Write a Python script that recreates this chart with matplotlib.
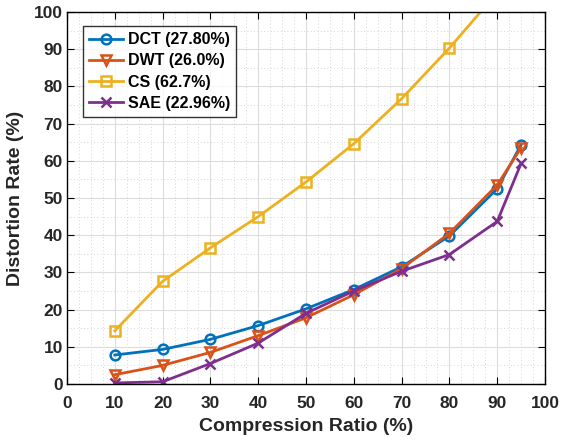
import numpy as np
import matplotlib
matplotlib.use('Agg')
import matplotlib.pyplot as plt
from matplotlib.ticker import MultipleLocator

ratio = [10, 20, 30, 40, 50, 60, 70, 80, 90, 95]
dct = [7.8, 9.3, 12.0, 15.7, 20.2, 25.4, 31.5, 39.8, 52.5, 64.3]
dwt = [2.5, 5.0, 8.5, 13.0, 17.8, 24.0, 31.0, 40.5, 53.5, 63.5]
cs = [14.3, 27.6, 36.6, 45.0, 54.3, 64.6, 76.7, 90.3, 105.2]
sae = [0.3, 0.6, 5.5, 11.0, 19.0, 25.0, 30.3, 34.8, 43.7, 59.3]
labels = ["DCT (27.80%)", "DWT (26.0%)", "CS (62.7%)", "SAE (22.96%)"]

plt.rcParams['font.family'] = ['Liberation Sans', 'DejaVu Sans']
plt.rcParams['font.weight'] = 'bold'
plt.rcParams['axes.linewidth'] = 1.0

fig = plt.figure(figsize=(5.61, 4.43), dpi=100)
ax = fig.add_axes([67 / 561, 1 - 384 / 443, (545 - 67) / 561, (384 - 12) / 443])

kw = dict(linewidth=2, markersize=7, markerfacecolor='none', markeredgewidth=1.8)
ax.plot(ratio, dct, marker='o', color='#0072BD', label=labels[0], **kw)
ax.plot(ratio, dwt, marker='v', color='#D95319', label=labels[1], **kw)
ax.plot(ratio[:len(cs)], cs, marker='s', color='#EDB120', label=labels[2], **kw)
ax.plot(ratio, sae, marker='x', color='#7E2F8E', label=labels[3], **kw)

ax.set_xlim(0, 100)
ax.set_ylim(0, 100)
ax.xaxis.set_major_locator(MultipleLocator(10))
ax.yaxis.set_major_locator(MultipleLocator(10))
ax.xaxis.set_minor_locator(MultipleLocator(2.5))
ax.yaxis.set_minor_locator(MultipleLocator(5))
ax.grid(True, which='major', color='#dcdcdc', linewidth=0.8)
ax.grid(True, which='minor', color='#c8c8c8', linestyle=(0, (1, 3)), linewidth=0.6)
ax.set_axisbelow(True)
ax.tick_params(which='both', direction='in', top=True, right=True, labelsize=12.5,
               labelcolor='#262626')
ax.tick_params(which='major', length=5)
ax.tick_params(which='minor', length=0)
ax.tick_params(axis='x', pad=9)
ax.tick_params(axis='y', pad=3)
for lab in ax.get_xticklabels() + ax.get_yticklabels():
    lab.set_fontweight('bold')

ax.set_xlabel("Compression Ratio (%)", fontsize=14, fontweight='bold', labelpad=5, color='#262626')
ax.set_ylabel("Distortion Rate (%)", fontsize=14, fontweight='bold', labelpad=7, color='#262626')

leg = ax.legend(loc='upper left', bbox_to_anchor=(16 / 478, 1 - 14 / 372), fontsize=11.5, frameon=True,
                fancybox=False, edgecolor='black', handlelength=2.1, borderpad=0.4,
                labelspacing=0.38, handletextpad=0.3, borderaxespad=0.0)
leg.get_frame().set_linewidth(1.0)
for t in leg.get_texts():
    t.set_fontweight('bold')

fig.savefig('out.png', dpi=100)
